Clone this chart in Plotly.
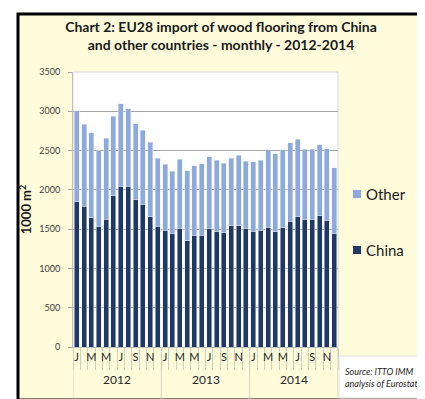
import plotly.graph_objects as go

years = ["2012", "2013", "2014"]
month_letters = ["J", "F", "M", "A", "M", "J", "J", "A", "S", "O", "N", "D"]
china = [1850, 1790, 1645, 1540, 1625, 1925, 2045, 2045, 1880, 1820, 1655, 1540,
         1485, 1440, 1510, 1350, 1415, 1425, 1505, 1475, 1455, 1545, 1545, 1510,
         1475, 1485, 1525, 1470, 1520, 1600, 1660, 1625, 1625, 1670, 1615, 1445]
other = [1160, 1045, 1080, 960, 1035, 1010, 1050, 985, 960, 940, 950, 865,
         840, 800, 880, 895, 890, 905, 915, 900, 885, 860, 895, 855,
         880, 895, 985, 990, 990, 1000, 985, 895, 895, 905, 910, 835]
y_ticks = [0, 500, 1000, 1500, 2000, 2500, 3000, 3500]

W, H = 425, 399
L, R, T, B = 65, 95, 64, 60
pw, ph = W - L - R, H - T - B

def px(xp):
    return (xp - L) / pw

def py(yp):
    return (H - B - yp) / ph

n = len(china)
xs = list(range(1, n + 1))
CHINA_C = "#203864"
OTHER_C = "#8EAADC"
CREAM = "#FFFCDC"
FONT = "Lato"

fig = go.Figure()
fig.add_trace(go.Bar(x=xs, y=china, name="China", marker_color=CHINA_C, showlegend=False))
fig.add_trace(go.Bar(x=xs, y=other, name="Other", marker_color=OTHER_C, showlegend=False))

tickvals = [i for i in xs if (i - 1) % 2 == 0]
ticktext = [month_letters[(i - 1) % 12] for i in tickvals]

shapes = [
    dict(type="rect", xref="paper", yref="paper", x0=px(10), x1=px(418), y0=py(392), y1=py(6),
         fillcolor=CREAM, line=dict(color="black", width=3), layer="below"),
    dict(type="rect", xref="paper", yref="paper", x0=0, x1=1, y0=0, y1=1,
         fillcolor="white", line=dict(color="#d9d9d9", width=1), layer="below"),
]
# year separators
for k in range(len(years) + 1):
    xv = 0.5 + 12 * k
    shapes.append(dict(type="line", xref="x", yref="paper", x0=xv, x1=xv, y0=0, y1=py(391),
                       line=dict(color="#d0d0c0", width=1)))
annotations = []
for k, yr in enumerate(years):
    annotations.append(dict(x=6.5 + 12 * k, xref="x", y=py(381), yref="paper", text=yr,
                            showarrow=False, font=dict(family=FONT, size=12, color="#262626")))

# legend (manual)
for name, col, ypix in [("Other", OTHER_C, 186), ("China", CHINA_C, 242)]:
    shapes.append(dict(type="rect", xref="paper", yref="paper", x0=px(345), x1=px(353),
                       y0=py(ypix + 4), y1=py(ypix - 4), fillcolor=col, line=dict(width=0)))
    annotations.append(dict(x=px(356), y=py(ypix), xref="paper", yref="paper", text=name,
                            xanchor="left", yanchor="middle", showarrow=False,
                            font=dict(family=FONT, size=15, color="#1a1a1a")))

# source box
shapes.append(dict(type="rect", xref="paper", yref="paper", x0=px(331), x1=px(414),
                   y0=py(390), y1=py(348), fillcolor="white", line=dict(color="#e0e0e0", width=1)))
annotations.append(dict(x=px(373), y=py(369), xref="paper", yref="paper",
                        text="<i>Source: ITTO IMM<br>analysis of Eurostat</i>",
                        xanchor="center", yanchor="middle", align="left", showarrow=False,
                        font=dict(family=FONT, size=9, color="#262626")))

fig.update_layout(
    width=W, height=H,
    margin=dict(l=L, r=R, t=T, b=B, autoexpand=False),
    barmode="stack", bargap=0.32,
    paper_bgcolor="white", plot_bgcolor="white",
    title=dict(text="<b>Chart 2: EU28 import of wood flooring from China<br>and other countries - monthly - 2012-2014</b>",
               x=213 / W, xanchor="center", y=1 - 24 / H, yanchor="top",
               font=dict(family=FONT, size=14, color="#1a1a1a")),
    font=dict(family=FONT, color="#404040"),
    shapes=shapes, annotations=annotations,
    xaxis=dict(range=[0.5, n + 0.5], tickmode="array", tickvals=tickvals, ticktext=ticktext,
               ticks="", showgrid=False, zeroline=False, showline=True, linecolor="#bfbfbf",
               tickfont=dict(family=FONT, size=11, color="#262626"), ticklabelstandoff=0,
               minor=dict(tick0=0.5, dtick=1, ticks="outside", ticklen=22, tickcolor="#d0d0c0",
                          showgrid=False)),
    yaxis=dict(range=[0, 3500], tickmode="array", tickvals=y_ticks, showgrid=True,
               gridcolor="#a6a6a6", gridwidth=1, zeroline=False, showline=True, linecolor="#bfbfbf",
               ticks="outside", ticklen=4, tickcolor="#a6a6a6", ticklabelstandoff=6,
               tickfont=dict(family=FONT, size=9, color="#404040"),
               title=dict(text="<b>1000 m<sup>2</sup></b>", standoff=4,
                          font=dict(family=FONT, size=13, color="#1a1a1a"))),
)

fig.write_html("out.html")
